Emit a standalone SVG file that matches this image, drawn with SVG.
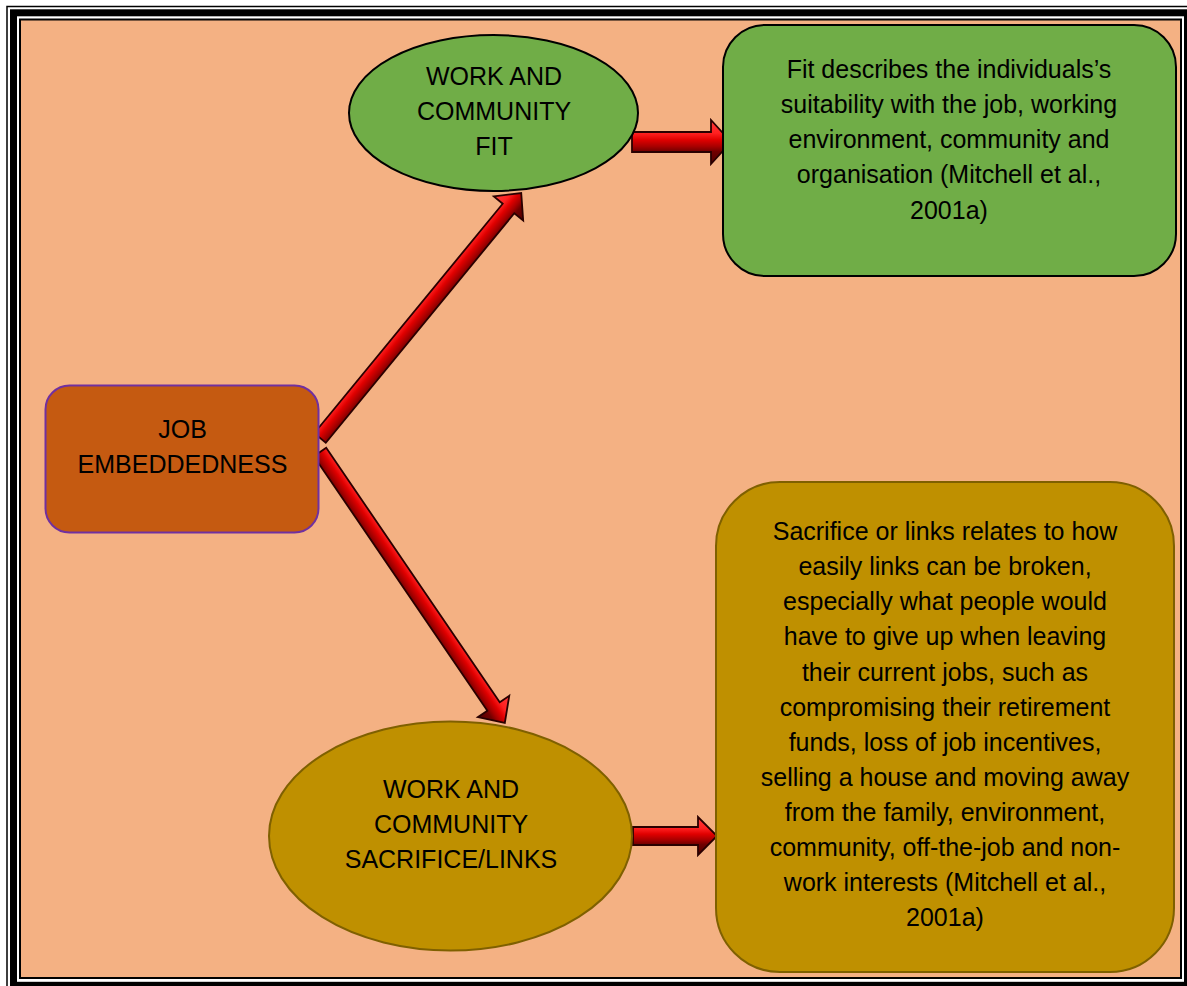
<svg xmlns="http://www.w3.org/2000/svg" width="1187" height="986" viewBox="0 0 1187 986">
<style>
  text { font-family: "Liberation Sans", Arial, sans-serif; font-size: 25px; fill: #000; text-anchor: middle; }
  .arrow { fill: url(#red); stroke: #2a0000; stroke-width: 1.8; stroke-linejoin: miter; }
  .green { fill: #70ad47; stroke: #000; stroke-width: 2; }
  .gold { fill: #bf9000; stroke: #7f6000; stroke-width: 2; }
</style>
<defs>
  <linearGradient id="red" x1="0" y1="0" x2="0" y2="1">
    <stop offset="0" stop-color="#ff3a3a"/>
    <stop offset="0.3" stop-color="#ff2020"/>
    <stop offset="0.45" stop-color="#e00000"/>
    <stop offset="0.6" stop-color="#a80000"/>
    <stop offset="0.72" stop-color="#700000"/>
    <stop offset="1" stop-color="#500000"/>
  </linearGradient>
</defs>

<!-- frame -->
<rect x="0" y="0" width="1187" height="986" fill="#ffffff"/>
<rect x="7" y="6.5" width="1187" height="990" fill="none" stroke="#000" stroke-width="1.5"/>
<rect x="13.5" y="12.8" width="1174" height="972.5" fill="none" stroke="#000" stroke-width="7"/>
<rect x="20" y="19.5" width="1161" height="958.5" fill="#f4b183" stroke="#000" stroke-width="2"/>

<!-- connectors -->
<g id="connectors">
  <polygon class="arrow" transform="translate(320,438) rotate(-50.6)" points="0,-7.5 297,-7.5 297,-19 317,0 297,19 297,7.5 0,7.5"/>
  <polygon class="arrow" transform="translate(320,452) rotate(55.7)" points="0,-7.5 308,-7.5 308,-19 328,0 308,19 308,7.5 0,7.5"/>
  <polygon class="arrow" transform="translate(632,142)" points="0,-10 79,-10 79,-22 99,0 79,22 79,10 0,10"/>
  <polygon class="arrow" transform="translate(633,836)" points="0,-9 65,-9 65,-19 84,0 65,19 65,9 0,9"/>
</g>

<g id="job-embeddedness">
  <rect x="45.5" y="385.5" width="273" height="147" rx="24" fill="#c55a11" stroke="#7030a0" stroke-width="2"/>
  <text x="182.5" y="438">JOB</text>
  <text x="182.5" y="473">EMBEDDEDNESS</text>
</g>

<g id="fit-ellipse">
  <ellipse class="green" cx="493.5" cy="113" rx="144.5" ry="78"/>
  <text x="494" y="85">WORK AND</text>
  <text x="494" y="120">COMMUNITY</text>
  <text x="494" y="155">FIT</text>
</g>

<g id="fit-desc">
  <rect class="green" x="723" y="25" width="453" height="251" rx="42"/>
  <text x="949" y="78">Fit describes the individuals’s</text>
  <text x="949" y="113">suitability with the job, working</text>
  <text x="949" y="148">environment, community and</text>
  <text x="949" y="183">organisation (Mitchell et al.,</text>
  <text x="949" y="219">2001a)</text>
</g>

<g id="sacrifice-ellipse">
  <ellipse class="gold" cx="450.5" cy="836" rx="181.5" ry="114.5"/>
  <text x="451" y="798">WORK AND</text>
  <text x="451" y="833">COMMUNITY</text>
  <text x="451" y="868">SACRIFICE/LINKS</text>
</g>

<g id="sacrifice-desc">
  <rect class="gold" x="716" y="482" width="458" height="490" rx="64"/>
  <text x="945" y="540">Sacrifice or links relates to how</text>
  <text x="945" y="575">easily links can be broken,</text>
  <text x="945" y="610">especially what people would</text>
  <text x="945" y="645">have to give up when leaving</text>
  <text x="945" y="681">their current jobs, such as</text>
  <text x="945" y="716">compromising their retirement</text>
  <text x="945" y="751">funds, loss of job incentives,</text>
  <text x="945" y="786">selling a house and moving away</text>
  <text x="945" y="821">from the family, environment,</text>
  <text x="945" y="856">community, off-the-job and non-</text>
  <text x="945" y="891">work interests (Mitchell et al.,</text>
  <text x="945" y="926">2001a)</text>
</g>
</svg>
